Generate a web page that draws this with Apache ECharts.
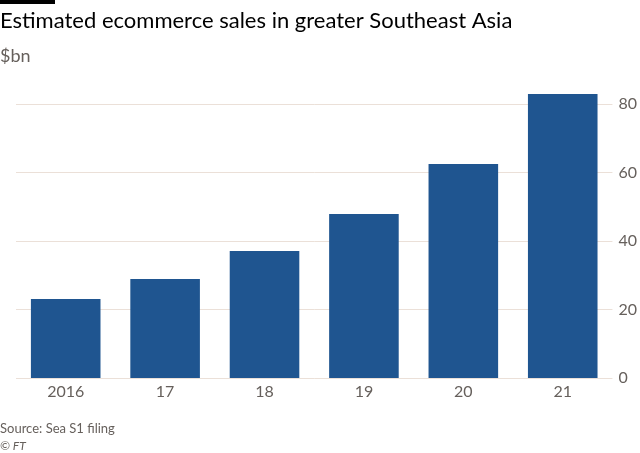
<!DOCTYPE html>
<html><head><meta charset="utf-8">
<script src="https://cdn.jsdelivr.net/npm/echarts@6/dist/echarts.min.js"></script>
<style>html,body{margin:0;padding:0;background:#fff}#c{width:640px;height:453px}</style>
</head><body><div id="c"></div>
<script>
const categories = ['2016', '17', '18', '19', '20', '21'];
const sales = [23.1, 28.9, 37.1, 47.9, 62.5, 82.9];
const yTicks = [0, 20, 40, 60, 80];

const chart = echarts.init(document.getElementById('c'), null, {renderer: 'canvas'});
const font = 'Lato, "Noto Sans", sans-serif';
chart.setOption({
  backgroundColor: '#fff',
  animation: false,
  graphic: [
    {type: 'rect', left: 0, top: 0, shape: {width: 55, height: 4}, style: {fill: '#000'}},
    {type: 'text', left: 0, top: 10, style: {text: 'Estimated ecommerce sales in greater Southeast Asia', font: '22px ' + font, fill: '#000'}},
    {type: 'text', left: 0, top: 47, style: {text: '$bn', font: '18px ' + font, fill: '#66605c'}},
    {type: 'text', left: 0, top: 422, style: {text: 'Source: Sea S1 filing', font: '13px ' + font, fill: '#66605c'}},
    {type: 'text', left: 0, top: 440, style: {text: '© FT', font: 'italic 12px ' + font, fill: '#66605c'}}
  ],
  grid: {left: 16, right: 27, top: 104, bottom: 75},
  xAxis: {
    type: 'category', data: categories,
    axisLine: {show: false}, axisTick: {show: false},
    axisLabel: {fontFamily: font, fontSize: 16, color: '#66605c', margin: 6}
  },
  yAxis: {
    type: 'value', position: 'right', min: 0, max: 80, interval: 20,
    axisLine: {show: false}, axisTick: {show: false},
    splitLine: {lineStyle: {color: '#ebe0d8', width: 1}},
    axisLabel: {fontFamily: font, fontSize: 16, color: '#66605c', margin: 6,
      formatter: v => yTicks.includes(v) ? String(v) : ''}
  },
  series: [{
    type: 'bar', data: sales, barCategoryGap: '30%', clip: false,
    itemStyle: {color: '#1f5590'}
  }]
});
</script></body></html>
